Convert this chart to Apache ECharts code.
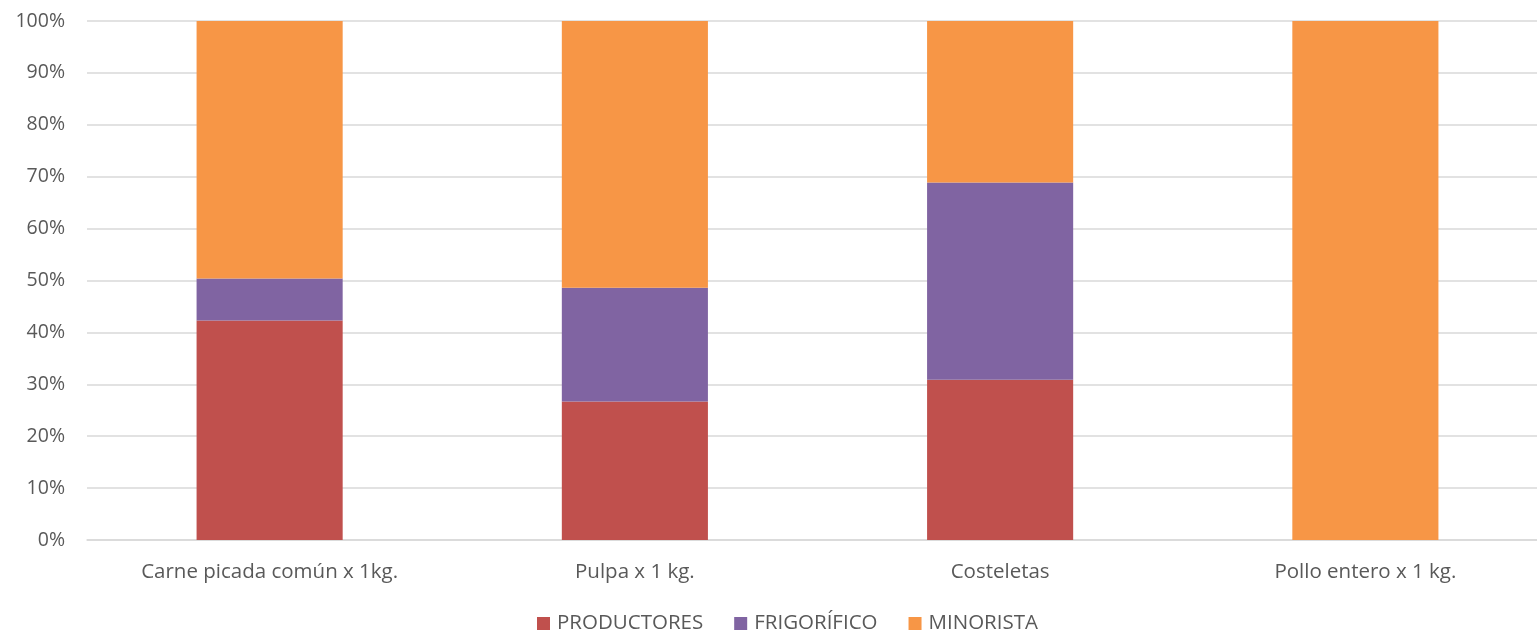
<!DOCTYPE html>
<html>
<head>
<meta charset="utf-8">
<script src="https://cdn.jsdelivr.net/npm/echarts@6/dist/echarts.min.js"></script>
<style>
html,body{margin:0;padding:0;background:#fff;}
#chart{width:1537px;height:634px;}
</style>
</head>
<body>
<div id="chart"></div>
<script>
const categories = ['Carne picada común x 1kg.', 'Pulpa x 1 kg.', 'Costeletas', 'Pollo entero x 1 kg.'];
const productores = [42.3, 26.7, 30.9, 0];
const frigorifico = [8.1, 21.9, 38.0, 0];
const minorista = [49.6, 51.4, 31.1, 100];
const seriesNames = ['PRODUCTORES', 'FRIGORÍFICO', 'MINORISTA'];
const colors = ['#C0504D', '#8064A2', '#F79646'];

const font = '"Open Sans", sans-serif';
const chart = echarts.init(document.getElementById('chart'), null, {renderer: 'canvas'});
const mk = (name, data, color) => ({
  name, type: 'bar', stack: 'total', data, barWidth: '40%',
  itemStyle: {color}, emphasis: {disabled: true}
});
chart.setOption({
  animation: false,
  textStyle: {fontFamily: font},
  grid: {left: 87, width: 1461, top: 21, bottom: 94, containLabel: false, outerBoundsMode: 'none'},
  legend: {
    bottom: -5, left: 532, itemWidth: 13, itemHeight: 13, itemGap: 31,
    icon: 'rect',
    textStyle: {fontSize: 20.5, color: '#595959', fontFamily: font, padding: [0, 0, 0, 2]},
    data: seriesNames
  },
  xAxis: {
    type: 'category', data: categories,
    axisLine: {lineStyle: {color: '#D9D9D9', width: 1.5}},
    axisTick: {show: false},
    axisLabel: {fontSize: 20.5, color: '#595959', margin: 22, fontFamily: font}
  },
  yAxis: {
    type: 'value', min: 0, max: 100, interval: 10,
    axisLine: {show: false}, axisTick: {show: false},
    splitLine: {lineStyle: {color: '#D9D9D9', width: 1.5}},
    axisLabel: {fontSize: 19.5, color: '#595959', margin: 22, formatter: '{value}%', fontFamily: font}
  },
  series: [
    mk(seriesNames[0], productores, colors[0]),
    mk(seriesNames[1], frigorifico, colors[1]),
    mk(seriesNames[2], minorista, colors[2])
  ]
});
</script>
</body>
</html>
